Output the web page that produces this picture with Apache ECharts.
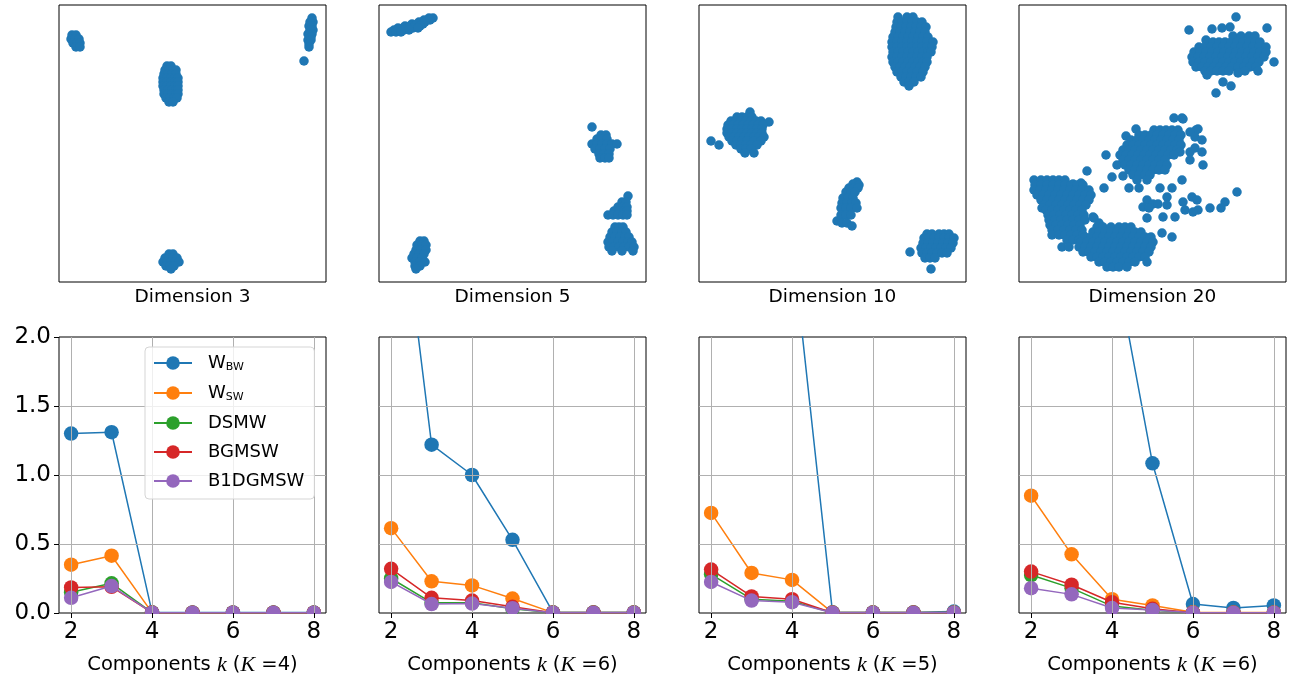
<!DOCTYPE html>
<html>
<head>
<meta http-equiv="Content-Type" content="text/html;charset=utf-8" />
<title>Dimensions / components</title>
<script src="https://cdnjs.cloudflare.com/ajax/libs/echarts/6.0.0/echarts.min.js"></script>
<style>
  html, body { margin: 0; padding: 0; background: #fff; }
</style>
</head>
<body>
<div id="chart" style="width:1294px; height:680px;"></div>
<script>
  // ---------- data ----------
  var panelNames = ['Dimension 3', 'Dimension 5', 'Dimension 10', 'Dimension 20'];
  var bigK = [4, 6, 5, 6];
  var ks = [2, 3, 4, 5, 6, 7, 8];
  var xTicks = [2, 4, 6, 8];
  var methods = ['W_BW', 'W_SW', 'DSMW', 'BGMSW', 'B1DGMSW'];
  var colors = ['#1f77b4', '#ff7f0e', '#2ca02c', '#d62728', '#9467bd'];

  // one array per panel (K=4, K=6, K=5, K=6), values for k = 2..8
  var wbw = [
    [1.30, 1.31, 0.005, 0.003, 0.004, 0.003, 0.003],
    [3.60, 1.22, 1.00, 0.53, 0.005, 0.005, 0.005],
    [4.50, 3.60, 2.70, 0.005, 0.005, 0.005, 0.01],
    [4.50, 3.60, 2.66, 1.085, 0.065, 0.037, 0.055]
  ];
  var wsw = [
    [0.35, 0.415, 0.003, 0.002, 0.002, 0.002, 0.002],
    [0.615, 0.23, 0.20, 0.105, 0.003, 0.003, 0.003],
    [0.725, 0.29, 0.24, 0.003, 0.003, 0.003, 0.003],
    [0.85, 0.425, 0.10, 0.055, 0.005, 0.003, 0.003]
  ];
  var dsmw = [
    [0.15, 0.215, 0.002, 0.002, 0.002, 0.002, 0.002],
    [0.25, 0.075, 0.075, 0.03, 0.002, 0.002, 0.002],
    [0.28, 0.10, 0.085, 0.002, 0.002, 0.002, 0.002],
    [0.275, 0.18, 0.05, 0.02, 0.002, 0.002, 0.002]
  ];
  var bgmsw = [
    [0.185, 0.19, 0.002, 0.002, 0.002, 0.002, 0.002],
    [0.32, 0.11, 0.09, 0.045, 0.002, 0.002, 0.002],
    [0.315, 0.12, 0.10, 0.002, 0.002, 0.002, 0.002],
    [0.30, 0.205, 0.078, 0.03, 0.002, 0.002, 0.002]
  ];
  var b1dgmsw = [
    [0.11, 0.195, 0.002, 0.002, 0.002, 0.002, 0.002],
    [0.225, 0.065, 0.068, 0.035, 0.002, 0.002, 0.002],
    [0.225, 0.09, 0.078, 0.002, 0.002, 0.002, 0.002],
    [0.18, 0.135, 0.036, 0.022, 0.002, 0.002, 0.002]
  ];

  // scatter points, rows of [y, x, x, ...] (x 0..267 from left, y 0..277 from top)
  var dim3Rows = [
    [30, 13, 17], [34, 12, 16, 20], [38, 14, 18, 21], [42, 17, 21],
    [61, 108, 112], [65, 106, 110, 114, 117], [69, 105, 109, 113, 117], [73, 104, 108, 112, 116, 119],
    [77, 104, 108, 112, 116, 119], [81, 104, 108, 112, 116, 119], [85, 105, 109, 113, 117, 119],
    [89, 105, 109, 113, 117, 119], [93, 107, 111, 115, 118], [97, 110, 114],
    [249, 110, 114], [253, 106, 110, 114, 118], [257, 104, 108, 112, 116, 120], [261, 107, 111, 115], [264, 112],
    [13, 253], [17, 254, 251], [21, 253, 250], [25, 254, 251], [29, 253, 249], [32, 252],
    [35, 249, 252], [39, 250], [42, 250], [56, 245]
  ];
  var dim5Rows = [
    [13, 50, 54], [15, 45, 51], [17, 40, 46], [19, 33, 38, 44], [21, 26, 31, 36, 41],
    [23, 19, 24, 29, 34, 39], [25, 15, 20, 25, 30], [27, 12, 17, 22],
    [122, 213], [130, 222, 227], [134, 218, 223, 228], [139, 213, 218, 223, 228, 233, 238],
    [144, 216, 221, 226, 231], [149, 220, 225, 230], [153, 221, 226, 230],
    [191, 249], [197, 243, 247], [202, 239, 244, 248], [206, 235, 240, 245, 248], [210, 229, 234, 239, 244, 248],
    [222, 236, 240, 244], [227, 233, 238, 243, 247], [232, 231, 236, 241, 246, 250],
    [237, 229, 234, 239, 244, 249, 253], [242, 230, 235, 240, 245, 250, 255], [246, 233, 243, 254],
    [236, 41, 45], [240, 38, 43, 47], [245, 37, 42, 47], [249, 35, 40, 45], [253, 33, 38, 43],
    [257, 36, 41, 46], [261, 36, 41], [264, 37]
  ];
  var dim10Rows = [
    [12, 199, 208, 214], [17, 198, 203, 208, 213, 218, 223], [22, 197, 202, 207, 212, 217, 222, 227],
    [27, 196, 201, 206, 211, 216, 221, 226], [32, 194, 199, 204, 209, 214, 219, 224, 229],
    [37, 193, 198, 203, 208, 213, 218, 223, 228, 234], [42, 193, 198, 203, 208, 213, 218, 223, 228, 233],
    [47, 194, 199, 204, 209, 214, 219, 224, 229, 232], [52, 193, 198, 203, 208, 213, 218, 223, 228],
    [57, 194, 199, 204, 209, 214, 219, 224, 228], [62, 196, 201, 206, 211, 216, 221, 226],
    [67, 198, 203, 208, 213, 218, 224], [72, 202, 207, 212, 217, 222], [77, 205, 210, 215], [81, 210],
    [107, 51], [112, 38, 43, 48, 53], [116, 32, 37, 42, 47, 52, 57, 62], [117, 70],
    [120, 29, 34, 39, 44, 49, 54, 59, 64], [124, 28, 33, 38, 43, 48, 53, 58, 63],
    [128, 28, 33, 38, 43, 48, 53, 58, 63], [132, 30, 35, 40, 45, 50, 55, 60, 65],
    [136, 12, 33, 38, 43, 48, 55, 62], [140, 20, 37, 42, 47, 52, 58], [144, 42, 47, 52], [148, 46, 55],
    [177, 158], [179, 154], [180, 160], [183, 150, 155, 159], [187, 147, 152, 156], [193, 144, 149, 154],
    [198, 143, 148, 153, 157], [203, 142, 147, 152, 158], [210, 142, 147, 152], [216, 138],
    [218, 143, 148], [221, 153],
    [229, 228, 233, 240, 245, 250], [233, 225, 230, 235, 240, 245, 250, 255],
    [238, 224, 229, 234, 239, 244, 249, 254], [243, 222, 227, 232, 237, 242, 247, 252], [247, 211],
    [248, 223, 228, 233, 238, 243, 248], [253, 226, 231, 236], [264, 232]
  ];
  var dim20Rows = [
    [12, 217], [22, 211], [23, 203, 248], [24, 193], [25, 170], [31, 214, 222, 230, 236], [35, 187],
    [37, 188, 194, 200, 206, 212, 218, 224, 230, 236, 241],
    [42, 180, 186, 192, 198, 204, 210, 216, 222, 228, 234, 240, 247],
    [47, 175, 181, 187, 193, 199, 205, 211, 217, 223, 229, 235, 241, 247],
    [52, 173, 179, 185, 191, 197, 203, 209, 215, 221, 227, 233, 239, 245],
    [57, 174, 180, 186, 192, 198, 204, 210, 216, 222, 228, 234, 240, 255],
    [62, 177, 183, 189, 195, 201, 207, 213, 219, 225, 231, 237],
    [66, 186, 192, 198, 204, 210, 226, 239], [68, 219], [70, 188], [77, 204], [81, 212], [88, 197],
    [113, 155, 163], [114, 164], [124, 117, 179], [125, 135, 141, 147, 153, 159, 177], [127, 171],
    [130, 120, 126, 132, 138, 144, 150, 156, 162], [131, 107], [132, 176],
    [135, 112, 118, 124, 130, 136, 142, 148, 154, 160, 183],
    [140, 108, 114, 120, 126, 132, 138, 144, 150, 156, 162], [143, 176],
    [145, 104, 110, 116, 122, 128, 134, 140, 146, 152, 158], [147, 161, 171, 183],
    [150, 87, 101, 107, 113, 119, 125, 131, 137, 143, 149, 155],
    [155, 104, 110, 116, 122, 128, 134, 140, 146, 171],
    [160, 98, 106, 112, 118, 124, 130, 136, 142, 148, 184],
    [165, 110, 116, 122, 128, 134, 140, 146], [166, 68], [170, 114, 120, 126, 131], [171, 104],
    [172, 93], [175, 118, 128, 163], [183, 85, 110, 120, 141, 153],
    [187, 218], [192, 148, 173], [195, 128, 178], [197, 164, 206], [199, 134, 139], [200, 148],
    [202, 124], [203, 130, 191, 202], [205, 166, 179], [207, 174], [212, 144, 156], [213, 128],
    [175, 15, 22, 28, 34, 40, 46], [178, 62], [179, 54],
    [180, 16, 22, 28, 34, 40, 46, 52, 58, 64], [185, 15, 21, 27, 33, 39, 45, 51, 57, 63, 70],
    [190, 18, 24, 30, 36, 42, 48, 54, 60, 66, 72], [195, 22, 28, 34, 40, 46, 52, 58, 64, 70],
    [200, 25, 31, 37, 43, 49, 55, 61, 67], [203, 23], [205, 27, 33, 39, 45, 51, 57, 63],
    [210, 29, 35, 41, 47, 53, 59, 65], [213, 75], [215, 30, 36, 42, 48, 54, 60, 66],
    [218, 80], [220, 31, 37, 43, 49, 55, 61], [222, 83], [225, 33, 39, 45, 51, 57, 63],
    [230, 33, 40, 46, 52, 58, 64], [235, 48, 54, 60],
    [212, 74], [222, 78, 84, 92, 100, 106, 112], [227, 74, 80, 86, 92, 98, 104, 110, 116, 122],
    [228, 143], [232, 66, 72, 78, 84, 90, 96, 102, 108, 114, 120, 126, 132, 153], [233, 131],
    [237, 62, 68, 74, 80, 86, 92, 98, 104, 110, 116, 122, 128, 134],
    [242, 43, 50, 60, 66, 72, 78, 84, 90, 96, 102, 108, 114, 120, 126, 132],
    [247, 64, 70, 76, 82, 88, 94, 100, 106, 112, 118, 124, 130],
    [252, 72, 78, 84, 90, 96, 102, 108, 114, 120, 126],
    [257, 80, 86, 92, 98, 104, 110, 116, 128], [262, 88, 94, 100, 108]
  ];
  var scatterRows = [dim3Rows, dim5Rows, dim10Rows, dim20Rows];

  // ---------- build ----------
  function expand(rows) {
    var pts = [];
    rows.forEach(function (r) {
      for (var i = 1; i < r.length; i++) pts.push([r[i], r[0]]);
    });
    return pts;
  }

  var font = 'DejaVu Sans';
  var lefts = [59, 379, 699, 1019];
  var grids = [], xAxes = [], yAxes = [], series = [], masks = [];
  var methodVals = [wbw, wsw, dsmw, bgmsw, b1dgmsw];

  // top row: scatter panels
  lefts.forEach(function (l, p) {
    grids.push({ left: l, top: 5, width: 267, height: 277, show: true, borderColor: '#000', borderWidth: 1 });
    xAxes.push({
      gridIndex: p, type: 'value', min: 0, max: 267,
      axisLine: { show: false }, axisTick: { show: false }, axisLabel: { show: false }, splitLine: { show: false },
      name: panelNames[p], nameLocation: 'middle', nameGap: 6,
      nameTextStyle: { fontSize: 18.5, color: '#000', fontFamily: font }
    });
    yAxes.push({
      gridIndex: p, type: 'value', min: 0, max: 277, inverse: true,
      axisLine: { show: false }, axisTick: { show: false }, axisLabel: { show: false }, splitLine: { show: false }
    });
    series.push({
      type: 'scatter', xAxisIndex: p, yAxisIndex: p,
      data: expand(scatterRows[p]), symbolSize: 9.5,
      itemStyle: { color: '#1f77b4', opacity: 1 }, silent: true
    });
  });

  // bottom row: line panels
  lefts.forEach(function (l, p) {
    var g = 4 + p;
    grids.push({ left: l, top: 337, width: 267, height: 276, show: true, borderColor: '#000', borderWidth: 1 });
    xAxes.push({
      gridIndex: g, type: 'value', min: 1.7, max: 8.3, z: 10,
      axisLine: { show: false },
      axisTick: { show: true, length: 5, lineStyle: { color: '#000' }, customValues: xTicks },
      axisLabel: { fontSize: 23, color: '#000', fontFamily: font, margin: 8, customValues: xTicks },
      splitLine: { show: true, lineStyle: { color: '#b0b0b0', width: 1 } },
      name: '{n|Components }{i|k}{n| (}{i|K}{n| =' + bigK[p] + ')}',
      nameLocation: 'middle', nameGap: 41,
      nameTextStyle: {
        rich: {
          n: { fontSize: 19.5, color: '#000', fontFamily: font },
          i: { fontSize: 22, color: '#000', fontFamily: 'Liberation Serif', fontStyle: 'italic' }
        }
      }
    });
    yAxes.push({
      gridIndex: g, type: 'value', min: 0, max: 2, interval: 0.5, z: 10,
      axisLine: { show: false },
      axisTick: { show: p === 0, length: 5, lineStyle: { color: '#000' } },
      axisLabel: {
        show: p === 0, fontSize: 23, color: '#000', fontFamily: font, margin: 8,
        formatter: function (v) { return v.toFixed(1); }
      },
      splitLine: { show: true, showMinLine: false, showMaxLine: false, lineStyle: { color: '#b0b0b0', width: 1 } }
    });
    methods.forEach(function (m, s) {
      series.push({
        name: m, type: 'line', xAxisIndex: g, yAxisIndex: g,
        data: ks.map(function (k, j) { return [k, methodVals[s][p][j]]; }),
        symbol: 'circle', symbolSize: 14.5, showSymbol: true, clip: true,
        lineStyle: { color: colors[s], width: 1.5 },
        itemStyle: { color: colors[s] },
        z: 2 + s
      });
    });
    // white band under each lower frame so markers sitting on 0 are cut like an axes clip
    masks.push({
      type: 'rect', left: l - 8, top: 614, z: 8, silent: true,
      shape: { width: 267 + 16, height: 9 },
      style: { fill: '#fff' }
    });
  });

  var option = {
    backgroundColor: '#fff',
    animation: false,
    grid: grids,
    xAxis: xAxes,
    yAxis: yAxes,
    graphic: masks,
    legend: {
      data: methods, orient: 'vertical', left: 145, top: 347, z: 12,
      itemWidth: 38, itemHeight: 17, itemGap: 11,
      padding: [7, 10, 9, 8],
      backgroundColor: 'rgba(255,255,255,0.8)', borderColor: '#d5d5d5', borderWidth: 1, borderRadius: 4,
      textStyle: { fontSize: 18, color: '#000', fontFamily: font, padding: [0, 0, 0, 11],
        rich: {
          m: { fontSize: 18, color: '#000', fontFamily: font, lineHeight: 20 },
          s: { fontSize: 11, color: '#000', fontFamily: font, lineHeight: 11, verticalAlign: 'bottom' }
        }
      },
      formatter: function (name) {
        if (name.indexOf('W_') === 0) return '{m|W}{s|' + name.slice(2) + '}';
        return '{m|' + name + '}';
      },
      selectedMode: false
    },
    series: series
  };

  var chart = echarts.init(document.getElementById('chart'));
  chart.setOption(option);
</script>
</body>
</html>
